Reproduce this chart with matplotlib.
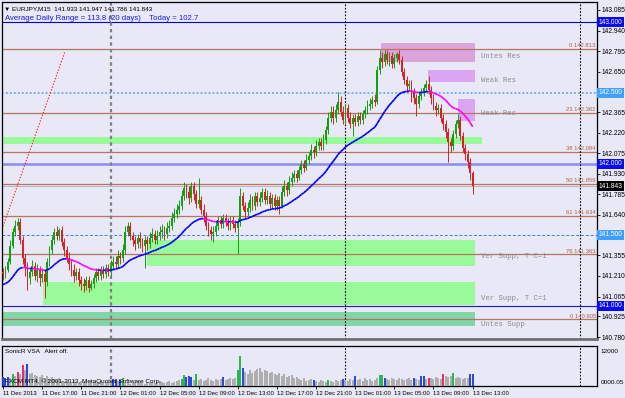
import matplotlib.pyplot as plt
from matplotlib.collections import LineCollection

# EURJPY M15, 11 Dec 13:00 .. 13 Dec 13:00 (193 bars)
first_open = 141.238
closes = [
    141.224, 141.252, 141.308, 141.421, 141.520, 141.562, 141.590, 141.464, 141.337, 141.266,
    141.196, 141.238, 141.280, 141.210, 141.252, 141.196, 141.224, 141.167, 141.308, 141.393,
    141.464, 141.520, 141.492, 141.534, 141.449, 141.393, 141.337, 141.294, 141.252, 141.210,
    141.238, 141.182, 141.153, 141.139, 141.182, 141.125, 141.153, 141.196, 141.238, 141.210,
    141.252, 141.224, 141.266, 141.238, 141.280, 141.308, 141.294, 141.351, 141.337, 141.393,
    141.520, 141.562, 141.492, 141.464, 141.435, 141.478, 141.449, 141.421, 141.464, 141.435,
    141.478, 141.506, 141.464, 141.492, 141.520, 141.534, 141.506, 141.548, 141.562, 141.619,
    141.647, 141.675, 141.703, 141.774, 141.830, 141.802, 141.760, 141.844, 141.788, 141.717,
    141.746, 141.675, 141.633, 141.562, 141.534, 141.506, 141.520, 141.562, 141.605, 141.576,
    141.619, 141.590, 141.562, 141.605, 141.576, 141.548, 141.590, 141.774, 141.703, 141.661,
    141.689, 141.746, 141.703, 141.774, 141.731, 141.760, 141.802, 141.746, 141.774, 141.717,
    141.760, 141.703, 141.746, 141.703, 141.802, 141.844, 141.816, 141.872, 141.901, 141.929,
    141.901, 141.957, 141.999, 141.971, 142.028, 142.056, 142.098, 142.084, 142.126, 142.154,
    142.126, 142.169, 142.239, 142.324, 142.366, 142.324, 142.380, 142.436, 142.366, 142.310,
    142.394, 142.324, 142.281, 142.324, 142.295, 142.338, 142.310, 142.352, 142.380, 142.408,
    142.422, 142.451, 142.436, 142.662, 142.747, 142.718, 142.775, 142.733, 142.761, 142.704,
    142.747, 142.775, 142.733, 142.648, 142.592, 142.549, 142.563, 142.507, 142.465, 142.422,
    142.479, 142.507, 142.535, 142.563, 142.521, 142.465, 142.408, 142.380, 142.394, 142.324,
    142.281, 142.225, 142.154, 142.126, 142.211, 142.281, 142.310, 142.197, 142.112, 142.070,
    142.013, 141.933, 141.843,
]
highs = [
    141.266, 141.280, 141.337, 141.464, 141.548, 141.605, 141.619, 141.619, 141.492, 141.365,
    141.308, 141.266, 141.323, 141.308, 141.294, 141.280, 141.266, 141.252, 141.337, 141.421,
    141.492, 141.548, 141.562, 141.548, 141.562, 141.478, 141.421, 141.379, 141.323, 141.294,
    141.266, 141.266, 141.210, 141.196, 141.210, 141.210, 141.182, 141.224, 141.266, 141.266,
    141.280, 141.280, 141.294, 141.294, 141.323, 141.351, 141.351, 141.393, 141.379, 141.435,
    141.562, 141.590, 141.590, 141.520, 141.492, 141.506, 141.520, 141.478, 141.492, 141.492,
    141.520, 141.548, 141.534, 141.534, 141.562, 141.576, 141.562, 141.590, 141.605, 141.661,
    141.689, 141.717, 141.746, 141.816, 141.872, 141.858, 141.844, 141.872, 141.872, 141.816,
    141.901, 141.774, 141.717, 141.661, 141.590, 141.562, 141.562, 141.590, 141.633, 141.633,
    141.647, 141.647, 141.619, 141.633, 141.633, 141.605, 141.619, 141.830, 141.802, 141.731,
    141.731, 141.788, 141.774, 141.802, 141.802, 141.802, 141.830, 141.830, 141.816, 141.802,
    141.788, 141.788, 141.774, 141.774, 141.844, 141.887, 141.872, 141.915, 141.943, 141.957,
    141.957, 141.985, 142.028, 142.028, 142.070, 142.084, 142.140, 142.126, 142.169, 142.183,
    142.183, 142.211, 142.267, 142.366, 142.408, 142.408, 142.422, 142.507, 142.479, 142.408,
    142.422, 142.422, 142.366, 142.352, 142.352, 142.366, 142.366, 142.380, 142.408, 142.451,
    142.465, 142.479, 142.493, 142.690, 142.803, 142.789, 142.803, 142.803, 142.789, 142.789,
    142.775, 142.789, 142.803, 142.761, 142.676, 142.620, 142.592, 142.592, 142.535, 142.493,
    142.507, 142.535, 142.563, 142.592, 142.620, 142.549, 142.493, 142.436, 142.422, 142.422,
    142.352, 142.310, 142.253, 142.183, 142.239, 142.310, 142.352, 142.338, 142.225, 142.140,
    142.098, 142.042, 141.947,
]
lows = [
    141.182, 141.196, 141.238, 141.294, 141.407, 141.492, 141.534, 141.435, 141.294, 141.210,
    141.111, 141.153, 141.210, 141.182, 141.167, 141.139, 141.167, 141.055, 141.139, 141.280,
    141.365, 141.435, 141.464, 141.464, 141.421, 141.351, 141.308, 141.252, 141.210, 141.167,
    141.182, 141.139, 141.111, 141.097, 141.111, 141.097, 141.111, 141.125, 141.167, 141.182,
    141.182, 141.196, 141.196, 141.210, 141.210, 141.252, 141.266, 141.266, 141.294, 141.308,
    141.365, 141.492, 141.464, 141.421, 141.393, 141.407, 141.407, 141.379, 141.266, 141.393,
    141.407, 141.449, 141.435, 141.435, 141.464, 141.478, 141.464, 141.478, 141.520, 141.534,
    141.590, 141.619, 141.647, 141.675, 141.746, 141.760, 141.717, 141.731, 141.746, 141.689,
    141.689, 141.647, 141.590, 141.534, 141.492, 141.464, 141.449, 141.492, 141.534, 141.548,
    141.548, 141.562, 141.534, 141.534, 141.548, 141.520, 141.365, 141.562, 141.675, 141.619,
    141.633, 141.661, 141.675, 141.675, 141.703, 141.703, 141.731, 141.717, 141.717, 141.689,
    141.689, 141.675, 141.675, 141.647, 141.689, 141.774, 141.774, 141.788, 141.844, 141.872,
    141.872, 141.887, 141.929, 141.943, 141.957, 141.999, 142.028, 142.042, 142.056, 142.098,
    142.098, 142.098, 142.140, 142.211, 142.295, 142.281, 142.295, 142.352, 142.338, 142.281,
    142.281, 142.295, 142.253, 142.197, 142.267, 142.267, 142.281, 142.281, 142.324, 142.352,
    142.380, 142.394, 142.408, 142.422, 142.634, 142.676, 142.690, 142.704, 142.690, 142.676,
    142.676, 142.718, 142.704, 142.620, 142.563, 142.507, 142.521, 142.436, 142.422, 142.338,
    142.394, 142.451, 142.479, 142.507, 142.493, 142.422, 142.380, 142.338, 142.352, 142.295,
    142.239, 142.183, 142.013, 142.084, 142.098, 142.183, 142.253, 142.169, 142.084, 142.028,
    141.971, 141.887, 141.786,
]
volumes = [
    3150, 2800, 3150, 2800, 4200, 3500, 4900, 4200, 7350, 5600,
    7700, 4200, 4550, 3850, 3500, 3150, 3850, 2800, 3500, 2450,
    3150, 2450, 2100, 2800, 1750, 1400, 1750, 1050, 1400, 2100,
    1400, 1050, 1750, 1400, 1400, 1050, 1750, 1400, 1050, 1400,
    1750, 1050, 1400, 1400, 1750, 2450, 2450, 1750, 2100, 2800,
    1050, 1400, 700, 1050, 1400, 1050, 1750, 1050, 700, 1400,
    1050, 1400, 1050, 1050, 1750, 1400, 1050, 1400, 1750, 1050,
    1400, 1750, 2100, 2450, 3850, 3150, 3500, 3150, 2100, 4200,
    2100, 2450, 1750, 2100, 2800, 2100, 1750, 2450, 2100, 2450,
    3150, 2100, 2450, 2800, 2450, 2800, 5600, 10500, 6300, 4900,
    4200, 5600, 4550, 5250, 5950, 6300, 4900, 5600, 5250, 4550,
    4900, 4200, 3850, 4550, 3500, 4200, 3150, 3500, 3850, 2800,
    3150, 2450, 2100, 2800, 1750, 2100, 2450, 2100, 1750, 1400,
    2100, 1750, 1400, 2100, 1750, 1400, 2100, 1750, 2100, 2450,
    2100, 1750, 2450, 2100, 3500, 2100, 2450, 1750, 2800, 2100,
    2450, 1750, 2100, 2800, 3850, 3850, 2800, 2450, 2100, 2800,
    2450, 2100, 2800, 2450, 2100, 2450, 2800, 2100, 2800, 2450,
    2100, 3500, 3500, 2450, 2800, 2800, 2450, 3150, 2800, 2450,
    4200, 3500, 3150, 3500, 4550, 2800, 3150, 2800, 2450, 2800,
    2800, 4200, 4200,
]
# VSA bar class: g normal, b blue, n green, r red
vsa_class = "".join([
    "bbb", "gngrgrgb",
    "gggggggggg", "gggggggggg", "gggggggggg", "gggg",
    "bbgbn",
    "gggggggggg", "gggggggggg", "ggg",
    "nnbbbgn", "gggggggggg", "b", "ggggg", "nnb",
    "gggggggggg", "gggggggggg", "gggggggg",
    "b", "ggggg", "n", "ggggg", "b", "gggg", "b", "ggggggggg",
    "nnb", "gggggggggg", "g", "b", "gg", "bb", "g", "r", "ggggg",
    "r", "ggg", "n", "gggggg", "bb",
])
time_labels = ["11 Dec 2013", "11 Dec 17:00", "11 Dec 21:00", "12 Dec 01:00",
               "12 Dec 05:00", "12 Dec 09:00", "12 Dec 13:00", "12 Dec 17:00",
               "12 Dec 21:00", "13 Dec 01:00", "13 Dec 05:00", "13 Dec 09:00",
               "13 Dec 13:00"]
price_ticks = [143.085, 142.940, 142.795, 142.650, 142.365, 142.220, 142.075,
               141.930, 141.785, 141.640, 141.355, 141.210, 141.065, 140.925, 140.780]
fib_pcts = [0, 23, 38, 50, 61, 76, 0]
fib_prices = [142.813, 142.362, 142.084, 141.859, 141.634, 141.363, 140.905]
round_levels = [143.000, 142.500, 142.000, 141.500, 141.000]
bid = 141.843
# supply/demand zones: name, low, high
zone_names = ["Untes Res", "Weak Res", "Weak Res", "", "Ver Supp, T C=1", "Ver Supp, T C=1", "Untes Supp"]
zone_lo = [142.720, 142.577, 142.302, 142.140, 141.280, 141.005, 140.857]
zone_hi = [142.855, 142.662, 142.458, 142.190, 141.464, 141.167, 140.956]
zone_label_y = [142.754, 142.588, 142.352, None, 141.344, 141.048, 140.871]
adr_text = "Average Daily Range = 113.8 (20 days)    Today = 102.7"
header = "\u25bc EURJPY,M15  141.933 141.947 141.786 141.843"

BG = "#e8e8f6"
W, H = 625, 398
n = len(closes)
idx = list(range(n))
opens = [first_open] + closes[:-1]

fig = plt.figure(figsize=(W / 100, H / 100), dpi=100, facecolor=BG)
ax = fig.add_axes([2 / W, 1 - 339 / H, 595 / W, 337 / H], facecolor=BG)
axv = fig.add_axes([2 / W, 1 - 386 / H, 595 / W, 40 / H], facecolor=BG)
XL = (-0.41, 242.85)
ax.set_xlim(*XL)
axv.set_xlim(*XL)
ax.set_ylim(140.766, 143.141)

sans = ["Liberation Sans", "DejaVu Sans"]

# zones
zone_x0 = [154.5, 173.8, 186.0, XL[0], 58.9, 16.4, XL[0]]
zone_x1 = [193.0, 193.0, 193.0, 195.8, 193.0, 193.0, 193.0]
zone_col = ["#dba4db", "#d8a6f2", "#d8a6f2", "#98fa98", "#98fa98", "#98fa98", "#80d6a8"]
for name, lo, hi, x0, x1, c, ly in zip(zone_names, zone_lo, zone_hi, zone_x0, zone_x1, zone_col, zone_label_y):
    ax.fill_between([x0, x1], lo, hi, color=c, lw=0, zorder=0.5)
    if name:
        ax.text(195.4, ly, name, fontsize=5.2, family="Liberation Mono", color="#8c8c8c",
                va="center", ha="left", zorder=2)

# fibonacci lines
for pct, p in zip(fib_pcts, fib_prices):
    ax.axhline(p, color="#b8745c", lw=0.9, zorder=1)
    ax.text(242.3, p + 0.004, f"{pct} {p:.3f}", fontsize=4.2, family=sans, color="#b06048",
            ha="right", va="bottom", zorder=2)

# round number levels
ax.axhline(round_levels[0], color="#0000c8", lw=0.8, zorder=1)
ax.axhline(round_levels[1], color="#6aaaf8", lw=1.3, ls=(0, (1, 1.2)), zorder=1)
ax.axhline(round_levels[2], color="#8c8cf4", lw=1.8, zorder=1)
ax.axhline(round_levels[3], color="#3a80f0", lw=0.7, ls=(0, (3, 2)), zorder=1)
ax.axhline(round_levels[4], color="#1a1ad0", lw=0.8, zorder=1)
ax.axhline(bid, color="#b8b8c8", lw=0.8, zorder=1)

# day separators
for d, c, lw in [(44, "#808080", 1.6), (140, "#000000", 0.8), (236, "#000000", 0.8)]:
    for a in (ax, axv):
        a.axvline(d, color=c, lw=lw, ls=(0, (1.5, 1.5)), zorder=1.5)

# trend line
ax.plot([XL[0], 25.3], [141.541, 142.789], color="#ff2020", lw=0.8, ls=(0, (1.2, 1.5)), zorder=2)

# candles
bull, bear = "#11a011", "#d82222"
cols = [bull if c >= o else bear for o, c in zip(opens, closes)]
ax.vlines(idx, lows, highs, colors=cols, lw=0.7, zorder=3)
bodies = [max(abs(c - o), 0.002) for o, c in zip(opens, closes)]
ax.bar(idx, bodies, bottom=[min(o, c) for o, c in zip(opens, closes)], width=0.75,
       color=cols, lw=0, zorder=3)

# EMA coloured by slope
alpha = 2 / 31
ema = [141.150]
for c in closes[1:]:
    ema.append(ema[-1] + alpha * (c - ema[-1]))
segs = [[(i - 1, ema[i - 1]), (i, ema[i])] for i in range(1, n)]
seg_cols = ["#0000ff" if ema[i] >= ema[i - 1] else "#ff00ff" for i in range(1, n)]
ax.add_collection(LineCollection(segs, colors=seg_cols, lw=1.2, zorder=4))

# price axis
ax.yaxis.tick_right()
ax.set_yticks(price_ticks)
ax.set_yticklabels([f"{p:.3f}" for p in price_ticks], fontsize=4.8, family=sans)
ax.tick_params(axis="y", length=2, width=0.6, pad=1.5)
ax.set_xticks([])
for s in ax.spines.values():
    s.set_color("#000000")
    s.set_linewidth(0.9)
ax.spines["bottom"].set_color("#707070")
ax.spines["bottom"].set_linewidth(2.0)

ytr = ax.get_yaxis_transform()
box_fc = ["#0a0af0", "#40a0ff", "#0a0af0", "#40a0ff", "#0a0af0"]
for lv, fc in zip(round_levels, box_fc):
    ax.text(1.003, lv, f"{lv:.3f}", transform=ytr, fontsize=4.8, family=sans, color="white",
            va="center", ha="left", bbox=dict(boxstyle="square,pad=0.25", fc=fc, ec="none"),
            zorder=6, clip_on=False)
ax.text(1.003, bid, f"{bid:.3f}", transform=ytr, fontsize=4.8, family=sans, color="white",
        va="center", ha="left", bbox=dict(boxstyle="square,pad=0.25", fc="black", ec="none"),
        zorder=6, clip_on=False)

ax.text(0.004, 0.987, header, transform=ax.transAxes, fontsize=4.6, family=sans,
        va="top", ha="left", color="black")
ax.text(0.005, 0.962, adr_text, transform=ax.transAxes, fontsize=5.6, family=sans,
        va="top", ha="left", color="#1a1ae6")

# volume pane
vmap = {"g": "#a8a8a8", "b": "#1a3ad8", "n": "#18b040", "r": "#e0205a"}
axv.vlines(idx, 0, volumes, colors=[vmap[k] for k in vsa_class], lw=1.3, zorder=3)
axv.set_ylim(0, 14000)
axv.set_yticks([])
axv.text(1.006, 12000, "12000", transform=axv.get_yaxis_transform(), fontsize=4.6,
         family=sans, va="center", ha="left")
axv.text(1.006, 1100, "0000.05", transform=axv.get_yaxis_transform(), fontsize=4.6,
         family=sans, va="center", ha="left")
axv.text(0.005, 0.92, "SonicR VSA   Alert off.", transform=axv.transAxes, fontsize=4.6,
         family=sans, va="top", ha="left")
axv.text(0.005, 0.04, "FXCM MT4, \u00a9 2001-2013, MetaQuotes Software Corp.",
         transform=axv.transAxes, fontsize=4.6, family=sans, va="bottom", ha="left", zorder=5)
axv.set_xticks(list(range(0, n, 16)))
axv.set_xticklabels(time_labels, fontsize=4.3, family=sans, ha="left")
axv.tick_params(axis="x", length=2, width=0.6, pad=1.5)
for s in axv.spines.values():
    s.set_color("#000000")
    s.set_linewidth(0.9)

fig.savefig("out.png", dpi=100, facecolor=BG)
